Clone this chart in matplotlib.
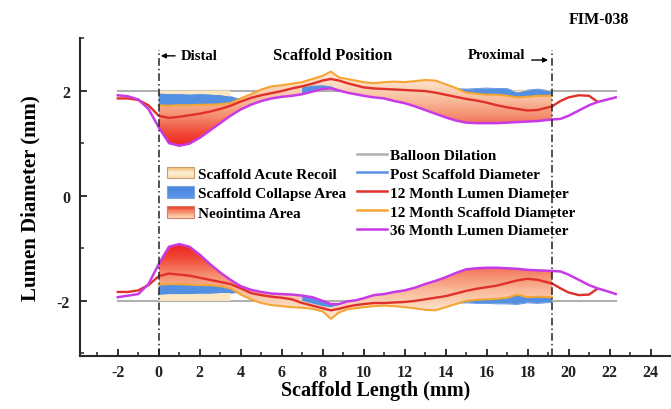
import matplotlib
matplotlib.use("Agg")
import matplotlib.pyplot as plt
import numpy as np
from matplotlib.colors import LinearSegmentedColormap
from matplotlib.legend_handler import HandlerBase
from matplotlib.lines import Line2D
from matplotlib.patches import Patch, Rectangle

plt.rcParams["font.family"] = ["Liberation Serif", "DejaVu Serif"]
plt.rcParams["font.weight"] = "bold"
plt.rcParams["axes.labelweight"] = "bold"
plt.rcParams["axes.unicode_minus"] = False

nan = np.nan

# scaffold length positions (mm)
X = [-2, -1.5, -1, -0.5, 0, 0.5, 1, 1.5, 2, 2.5, 3, 3.5, 4, 4.5, 5, 5.5, 6, 6.5,
     7, 7.5, 8, 8.4, 8.8, 9.2, 9.6, 10, 10.5, 11, 11.5, 12, 12.5, 13, 13.5, 14,
     14.5, 15, 15.5, 16, 16.5, 17, 17.5, 18, 18.5, 19.2, 19.6, 20, 20.5, 21,
     21.4, 22, 22.3]
SCAFFOLD_START = 0.0
SCAFFOLD_END = 19.2
BALLOON = 2.0

# upper wall (mm)
LUMEN36_TOP = [1.91, 1.89, 1.83, 1.65, 1.30, 1.00, 0.95, 0.99, 1.10, 1.24, 1.38,
               1.52, 1.64, 1.73, 1.80, 1.85, 1.88, 1.90, 1.93, 1.98, 2.03, 2.04,
               2.00, 1.96, 1.93, 1.90, 1.87, 1.85, 1.80, 1.76, 1.70, 1.63, 1.56,
               1.49, 1.43, 1.39, 1.38, 1.38, 1.38, 1.39, 1.40, 1.41, 1.42, 1.45,
               1.46, 1.52, 1.62, 1.72, 1.78, 1.84, 1.87]
LUMEN12_TOP = [1.85, 1.85, 1.82, 1.72, 1.52, 1.48, 1.50, 1.53, 1.56, 1.60, 1.65,
               1.71, 1.79, 1.86, 1.91, 1.95, 1.99, 2.04, 2.08, 2.13, 2.19, 2.22,
               2.19, 2.14, 2.10, 2.06, 2.04, 2.03, 2.02, 2.01, 2.00, 1.99, 1.96,
               1.92, 1.88, 1.84, 1.81, 1.77, 1.72, 1.68, 1.65, 1.62, 1.63, 1.70,
               1.80, 1.87, 1.91, 1.90, 1.79, nan, nan]
SCAF12_TOP = [nan] * 4 + [
    1.72, 1.71, 1.72, 1.72, 1.73, 1.73, 1.74, 1.76, 1.85, 1.93, 2.02, 2.08,
    2.10, 2.13, 2.16, 2.22, 2.28, 2.36, 2.25, 2.22, 2.19, 2.16, 2.14, 2.16,
    2.17, 2.16, 2.18, 2.20, 2.19, 2.12, 2.05, 1.96, 1.94, 1.92, 1.92, 1.90,
    1.87, 1.88, 1.90, 1.90] + [nan] * 7
POST_TOP = [nan] * 4 + [
    1.94, 1.93, 1.93, 1.92, 1.93, 1.92, 1.91, 1.88, 1.82, 1.90, 1.97, 2.02,
    2.05, 2.08, 2.06, 2.09, 2.10, 2.08, 2.02, 2.17, 2.14, 2.10, 2.08, 2.08,
    2.08, 2.07, 2.07, 2.07, 2.06, 2.04, 2.03, 2.02, 2.03, 2.04, 2.03, 2.03,
    1.96, 2.00, 2.02, 1.98] + [nan] * 7

# lower wall (mm)
LUMEN36_BOT = [-1.93, -1.90, -1.87, -1.68, -1.30, -0.97, -0.92, -0.97, -1.12,
               -1.30, -1.46, -1.60, -1.72, -1.79, -1.83, -1.86, -1.87, -1.88,
               -1.90, -1.93, -2.00, -2.06, -2.06, -2.01, -1.99, -1.95, -1.89,
               -1.87, -1.83, -1.80, -1.75, -1.68, -1.62, -1.55, -1.47, -1.40,
               -1.38, -1.37, -1.37, -1.38, -1.39, -1.41, -1.42, -1.43, -1.44,
               -1.50, -1.60, -1.70, -1.76, -1.83, -1.87]
LUMEN12_BOT = [-1.83, -1.83, -1.80, -1.70, -1.53, -1.48, -1.50, -1.52, -1.56,
               -1.60, -1.64, -1.68, -1.76, -1.85, -1.89, -1.92, -1.94, -1.97,
               -2.04, -2.09, -2.14, -2.18, -2.15, -2.11, -2.08, -2.06, -2.04,
               -2.04, -2.03, -2.02, -2.00, -1.97, -1.94, -1.91, -1.86, -1.81,
               -1.77, -1.74, -1.71, -1.66, -1.61, -1.58, -1.60, -1.67, -1.76,
               -1.84, -1.89, -1.88, -1.77, nan, nan]
SCAF12_BOT = [nan] * 4 + [
    -1.69, -1.68, -1.68, -1.69, -1.70, -1.70, -1.72, -1.76, -1.88, -1.97,
    -2.04, -2.08, -2.10, -2.12, -2.13, -2.15, -2.20, -2.34, -2.22, -2.16,
    -2.14, -2.12, -2.10, -2.09, -2.10, -2.12, -2.14, -2.17, -2.18, -2.12,
    -2.06, -2.00, -1.98, -1.97, -1.96, -1.94, -1.88, -1.93, -1.92, -1.93] + [nan] * 7
POST_BOT = [nan] * 4 + [
    -1.88, -1.87, -1.87, -1.87, -1.86, -1.86, -1.85, -1.85, -1.82, -1.91,
    -1.96, -2.00, -2.02, -2.04, -2.00, -2.05, -2.10, -2.12, -2.08, -2.13,
    -2.11, -2.09, -2.07, -2.06, -2.06, -2.07, -2.07, -2.07, -2.06, -2.03,
    -2.04, -2.03, -2.04, -2.04, -2.05, -2.05, -2.06, -2.03, -2.04, -2.02] + [nan] * 7

C_BALLOON = "#b0b0b0"
C_POST = "#5b8fe8"
C_LUMEN12 = "#e0302a"
C_SCAF12 = "#f4a533"
C_LUMEN36 = "#c83ae6"
C_COLLAPSE = "#5490e2"
C_RECOIL = "#fbe8c2"
NEO_CMAP = LinearSegmentedColormap.from_list("neo", [
    (0.0, "#ec1e1e"), (0.2, "#f04a38"), (0.4, "#f58a6c"),
    (0.6, "#f9b898"), (0.8, "#fcd9bf"), (1.0, "#fdebd9")])


class GradientHandler(HandlerBase):
    def __init__(self, colors, edge):
        super().__init__()
        self.cmap = LinearSegmentedColormap.from_list("h", colors)
        self.edge = edge

    def create_artists(self, legend, orig_handle, xdescent, ydescent, width,
                       height, fontsize, trans):
        n = 14
        out = []
        for i in range(n):
            out.append(Rectangle((-xdescent, -ydescent + height * (n - 1 - i) / n),
                                 width, height / n, facecolor=self.cmap(i / (n - 1)),
                                 edgecolor="none", transform=trans))
        out.append(Rectangle((-xdescent, -ydescent), width, height, facecolor="none",
                             edgecolor=self.edge, linewidth=0.8, transform=trans))
        return out


def draw_wall(ax, x, sign, lumen36, lumen12, scaf12, post):
    lumen36, lumen12 = np.array(lumen36), np.array(lumen12)
    scaf12, post = np.array(scaf12), np.array(post)
    a36, a12, asc, apo = sign * lumen36, sign * lumen12, sign * scaf12, sign * post
    collapse = apo > asc
    patch = (apo > a36) & (apo < a12) & ~collapse

    ax.plot(x, post, color=C_POST, lw=1.2, zorder=1.5)
    ax.fill_between(x, sign * BALLOON, post, where=collapse, interpolate=True,
                    facecolor=C_RECOIL, edgecolor="none", zorder=1.8)

    # neointima: gradient clipped to the band between scaffold and 36-month lumen
    poly = ax.fill_between(x, scaf12, lumen36, facecolor="none", edgecolor="none")
    yy = np.linspace(0, 2.6, 300)
    grad = (yy - 0.9) / 1.5
    img = np.repeat(grad[:, None], 2, axis=1)
    if sign > 0:
        ext = (SCAFFOLD_START, SCAFFOLD_END, 0, 2.6)
    else:
        ext = (SCAFFOLD_START, SCAFFOLD_END, -2.6, 0)
        img = img[::-1]
    im = ax.imshow(img, cmap=NEO_CMAP, vmin=0, vmax=1, origin="lower", extent=ext,
                   aspect="auto", interpolation="bilinear", zorder=2)
    im.set_clip_path(poly.get_paths()[0], transform=ax.transData)

    ax.fill_between(x, post, scaf12, where=collapse, interpolate=True,
                    facecolor=C_COLLAPSE, edgecolor="none", zorder=2.5)
    ax.fill_between(x, post, lumen36, where=patch, interpolate=True,
                    facecolor=C_COLLAPSE, edgecolor="none", zorder=2.5)

    ax.plot(x, scaf12, color=C_SCAF12, lw=1.5, zorder=3)
    ax.plot(x, lumen12, color=C_LUMEN12, lw=1.7, zorder=4)
    ax.plot(x, lumen36, color=C_LUMEN36, lw=1.8, zorder=5)


fig = plt.figure(figsize=(6.71, 4.10), dpi=100)
ax = fig.add_axes([0.119, 0.129, 0.881, 0.776])

ax.plot([X[0], X[-1]], [BALLOON, BALLOON], color=C_BALLOON, lw=1.5, zorder=1.6)
ax.plot([X[0], X[-1]], [-BALLOON, -BALLOON], color=C_BALLOON, lw=1.5, zorder=1.6)
draw_wall(ax, X, 1, LUMEN36_TOP, LUMEN12_TOP, SCAF12_TOP, POST_TOP)
draw_wall(ax, X, -1, LUMEN36_BOT, LUMEN12_BOT, SCAF12_BOT, POST_BOT)

for xv in (SCAFFOLD_START, SCAFFOLD_END):
    ax.plot([xv, xv], [-3.05, 2.78], color="#222222", lw=1.1, ls=(0, (5, 2, 1, 2)),
            zorder=6)

ax.annotate("", xy=(0.1, 2.66), xytext=(0.8, 2.66),
            arrowprops=dict(arrowstyle="-|>", color="black", lw=1.0,
                            mutation_scale=7, shrinkA=0, shrinkB=0))
ax.text(1.95, 2.66, "Distal", fontsize=10.5, va="center", ha="center")
ax.text(8.5, 2.67, "Scaffold Position", fontsize=12, va="center", ha="center")
ax.text(16.5, 2.68, "Proximal", fontsize=10.5, va="center", ha="center")
ax.annotate("", xy=(19.0, 2.58), xytext=(18.2, 2.58),
            arrowprops=dict(arrowstyle="-|>", color="black", lw=1.0,
                            mutation_scale=7, shrinkA=0, shrinkB=0))
fig.text(0.892, 0.95, "FIM-038", fontsize=11.5, ha="center", va="center")

ax.set_xlim(-3.85, 25)
ax.set_ylim(-3.05, 3.0)
ax.set_xticks(np.arange(-2, 25, 2))
ax.set_xticks(np.arange(-3, 25, 2), minor=True)
ax.set_yticks([-2, 0, 2])
ax.set_yticks([-3, -1, 1, 3], minor=True)
ax.tick_params(which="both", direction="in", labelsize=11.5, colors="#222222")
ax.tick_params(which="major", length=5, width=1.3)
ax.tick_params(which="minor", length=3, width=1.1)
ax.tick_params(axis="x", pad=6)
ax.tick_params(axis="y", pad=7)
for s in ("top", "right"):
    ax.spines[s].set_visible(False)
for s in ("left", "bottom"):
    ax.spines[s].set_linewidth(1.5)
    ax.spines[s].set_color("#2a2a2a")
ax.set_xlabel("Scaffold Length (mm)", fontsize=14.5, labelpad=0)
ax.set_ylabel("Lumen Diameter (mm)", fontsize=15, labelpad=12)

h_recoil, h_collapse, h_neo = Patch(), Patch(), Patch()
leg1 = ax.legend([h_recoil, h_collapse, h_neo],
                 ["Scaffold Acute Recoil", "Scaffold Collapse Area", "Neointima Area"],
                 handler_map={
                     h_recoil: GradientHandler(["#f3b25a", "#fdf3dc", "#f8d9a8"], "#c8a070"),
                     h_collapse: GradientHandler(["#4a86e0", "#5b93e6"], "#7fa6d8"),
                     h_neo: GradientHandler(["#ec3a2a", "#f6906c", "#fbd3b0"], "#d08070")},
                 loc="upper left", bbox_to_anchor=(0.249, 0.591), bbox_transform=fig.transFigure,
                 frameon=False, fontsize=11, handlelength=1.77, handleheight=0.8,
                 handletextpad=0.26, labelspacing=0.36, borderpad=0, borderaxespad=0)
ax.add_artist(leg1)

line_handles = [Line2D([], [], color=c, lw=1.8) for c in
                (C_BALLOON, C_POST, C_LUMEN12, C_SCAF12, C_LUMEN36)]
ax.legend(line_handles,
          ["Balloon Dilation", "Post Scaffold Diameter", "12 Month Lumen Diameter",
           "12 Month Scaffold Diameter", "36 Month Lumen Diameter"],
          loc="upper left", bbox_to_anchor=(0.532, 0.636), bbox_transform=fig.transFigure,
          frameon=False, fontsize=11, handlelength=1.96, handletextpad=0.2,
          labelspacing=0.34, borderpad=0, borderaxespad=0)

fig.savefig("out.png", dpi=100, facecolor="white")
